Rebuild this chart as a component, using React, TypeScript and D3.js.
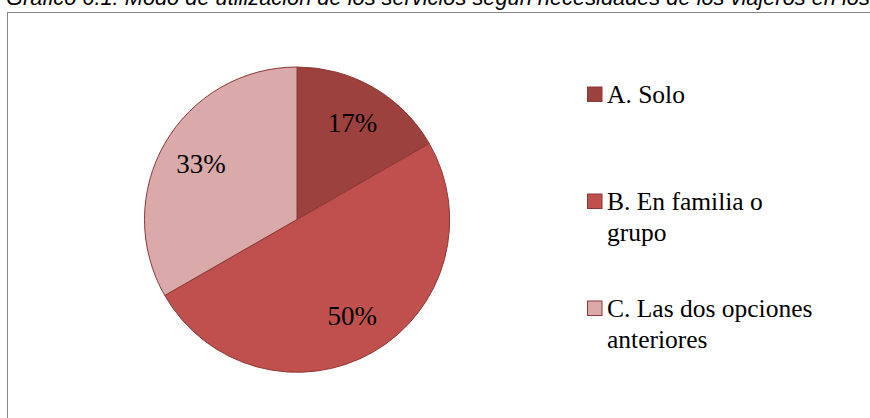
import { useEffect, useRef } from 'react';
import * as d3 from 'd3';

const categories = ['A. Solo', 'B. En familia o grupo', 'C. Las dos opciones anteriores'];
const legendLines = [['A. Solo'], ['B. En familia o', 'grupo'], ['C. Las dos opciones', 'anteriores']];
const values = [16.7, 50, 33.3];
const colors = ['#9D413E', '#C0504D', '#D9AAA9'];
const title = 'Gráfico 6.1: Modo de utilización de los servicios según necesidades de los viajeros en los albergues';

const width = 870;
const height = 418;

export default function App() {
  const svgRef = useRef<SVGSVGElement>(null);

  useEffect(() => {
    if (!svgRef.current) return;
    const svg = d3.select(svgRef.current);
    svg.selectAll('*').remove();

    // Title (partly cut off at the top, as in the source)
    svg.append('text')
      .attr('x', 6)
      .attr('y', 5)
      .attr('font-family', '"Liberation Sans", Arial, sans-serif')
      .attr('font-style', 'italic')
      .attr('font-size', 21.8)
      .attr('fill', '#000')
      .text(title);

    // Chart frame
    svg.append('rect')
      .attr('x', 7.5)
      .attr('y', 12.5)
      .attr('width', 900)
      .attr('height', 450)
      .attr('fill', 'white')
      .attr('stroke', '#868686')
      .attr('stroke-width', 1);

    const color = d3.scaleOrdinal<string, string>().domain(categories).range(colors);

    const cx = 297;
    const cy = 219.5;
    const r = 152.5;

    const pie = d3.pie<number>().sort(null).value((d) => d);
    const arcs = pie(values);
    const arc = d3.arc<d3.PieArcDatum<number>>().innerRadius(0).outerRadius(r);
    const labelArc = d3.arc<d3.PieArcDatum<number>>().innerRadius(111).outerRadius(111);

    const g = svg.append('g').attr('transform', `translate(${cx},${cy})`);

    g.selectAll('path')
      .data(arcs)
      .join('path')
      .attr('d', arc)
      .attr('fill', (_, i) => color(categories[i]))
      .attr('stroke', '#8C3836')
      .attr('stroke-width', 1);

    g.selectAll('text.pct')
      .data(arcs)
      .join('text')
      .attr('class', 'pct')
      .attr('transform', (d) => `translate(${labelArc.centroid(d)})`)
      .attr('text-anchor', 'middle')
      .attr('dy', '0.33em')
      .attr('font-family', '"Liberation Serif", "Times New Roman", serif')
      .attr('font-size', 27)
      .attr('fill', '#000')
      .text((d) => `${Math.round(d.data)}%`);

    // Legend
    const legendX = 587;
    const legendY = 103;
    const itemGap = 107;
    const lineHeight = 30.5;

    const legend = svg.append('g');
    const items = legend.selectAll('g')
      .data(categories)
      .join('g')
      .attr('transform', (_, i) => `translate(${legendX},${legendY + i * itemGap})`);

    items.append('rect')
      .attr('x', 0.5)
      .attr('y', -16)
      .attr('width', 14.5)
      .attr('height', 14.5)
      .attr('fill', (d) => color(d))
      .attr('stroke', '#8C3836')
      .attr('stroke-width', 1);

    items.append('text')
      .attr('x', 20)
      .attr('y', 0)
      .attr('font-family', '"Liberation Serif", "Times New Roman", serif')
      .attr('font-size', 25.5)
      .attr('fill', '#000')
      .selectAll('tspan')
      .data((_, i) => legendLines[i])
      .join('tspan')
      .attr('x', 20)
      .attr('dy', (_, j) => (j === 0 ? 0 : lineHeight))
      .text((t) => t);
  }, []);

  return (
    <svg
      ref={svgRef}
      width={width}
      height={height}
      style={{ position: 'absolute', left: 0, top: 0, background: 'white' }}
    />
  );
}
